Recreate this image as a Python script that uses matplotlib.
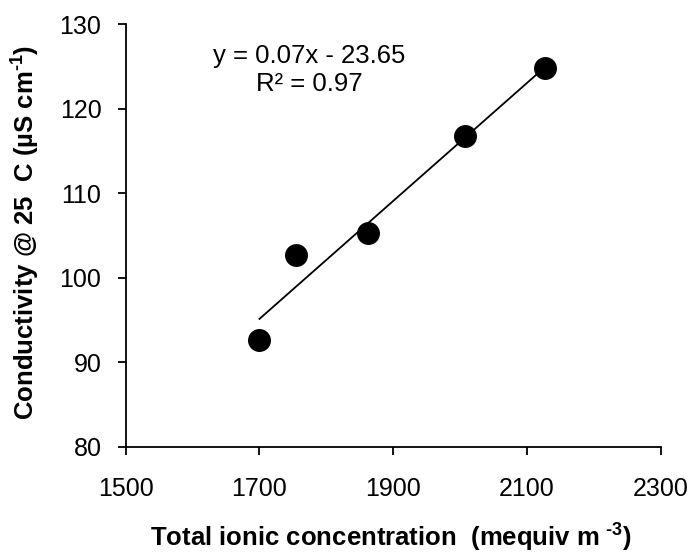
import matplotlib
matplotlib.use("Agg")
import matplotlib.pyplot as plt
import numpy as np

plt.rcParams['font.family'] = ['Liberation Sans', 'DejaVu Sans']
plt.rcParams['mathtext.fontset'] = 'custom'
plt.rcParams['mathtext.rm'] = 'Liberation Sans'
plt.rcParams['mathtext.bf'] = 'Liberation Sans:bold'

# data
ionic_conc = [1700, 1755, 1863, 2008, 2127]
conductivity = [92.6, 102.7, 105.3, 116.8, 124.8]
x_ticks = [1500, 1700, 1900, 2100, 2300]
y_ticks = [80, 90, 100, 110, 120, 130]
equation_text = "y = 0.07x - 23.65\nR² = 0.97"

fig = plt.figure(figsize=(6.91, 5.53), dpi=100)
ax = fig.add_axes([0.182, 0.192, 0.774, 0.764])

# linear trendline over data range
slope, intercept = np.polyfit(ionic_conc, conductivity, 1)
xs = np.array([min(ionic_conc), max(ionic_conc)])
ax.plot(xs, slope * xs + intercept, color='black', lw=1.3, zorder=2)
ax.plot(ionic_conc, conductivity, 'o', color='black', markersize=15.5, zorder=3)

ax.set_xlim(1500, 2300)
ax.set_ylim(80, 130)
ax.set_xticks(x_ticks)
ax.set_yticks(y_ticks)
ax.tick_params(direction='out', length=5.5, width=1.3, labelsize=18)
ax.tick_params(axis='y', pad=12)
ax.tick_params(axis='x', pad=16)
for side in ['top', 'right']:
    ax.spines[side].set_visible(False)
for side in ['left', 'bottom']:
    ax.spines[side].set_linewidth(1.3)

ax.text(1775, 124.6, equation_text, ha='center', va='center', fontsize=18.5,
        linespacing=1.2)

ax.set_xlabel('Total ionic concentration  (mequiv m$\\mathbf{^{\\ \u2010 3}}$)',
              fontsize=18.5, fontweight='bold', va='baseline')
ax.set_ylabel('Conductivity @ 25  C (\u00b5S cm$\\mathbf{^{\u20101}}$)',
              fontsize=18.5, fontweight='bold')
ax.xaxis.set_label_coords(0.496, -0.236)
ax.yaxis.set_label_coords(-0.157, 0.508)

fig.savefig('out.png', dpi=100)
